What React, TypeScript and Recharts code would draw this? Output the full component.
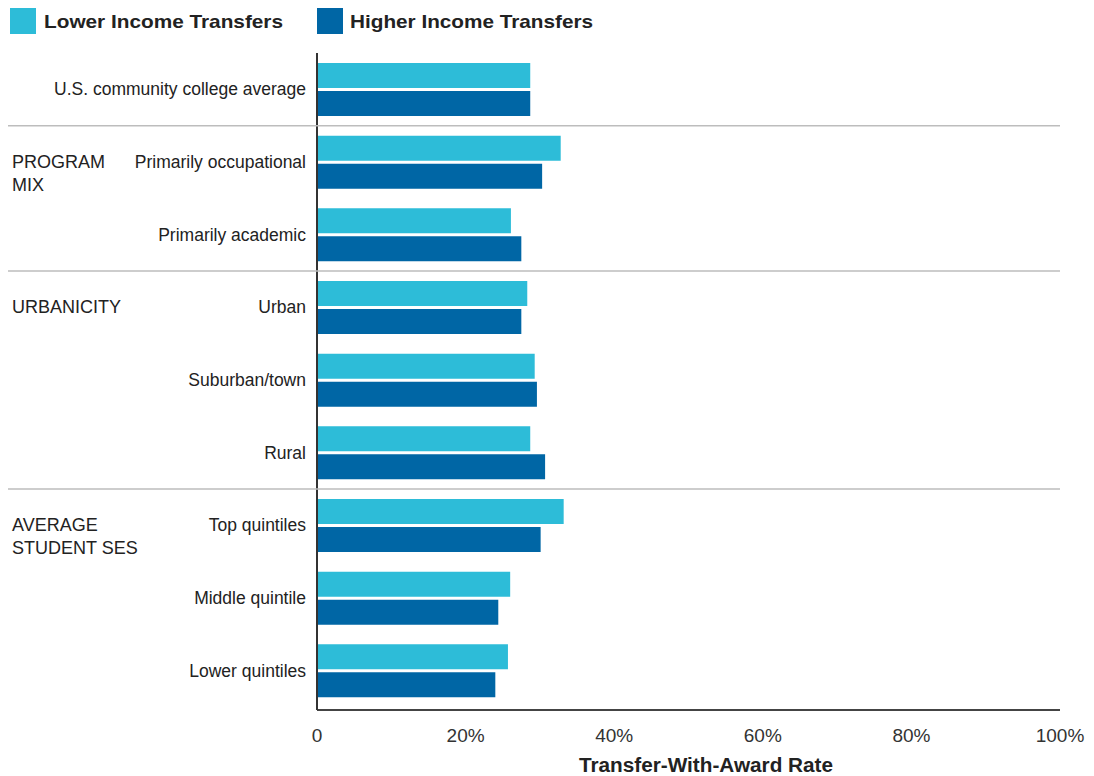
import React from "react";
import { BarChart, Bar, XAxis, YAxis, Legend } from "recharts";

// ---------- data ----------
const categories = [
  "U.S. community college average",
  "Primarily occupational",
  "Primarily academic",
  "Urban",
  "Suburban/town",
  "Rural",
  "Top quintiles",
  "Middle quintile",
  "Lower quintiles",
];
const lowerIncome = [28.7, 32.8, 26.1, 28.3, 29.3, 28.7, 33.2, 26.0, 25.7];
const higherIncome = [28.7, 30.3, 27.5, 27.5, 29.6, 30.7, 30.1, 24.4, 24.0];
const seriesNames = ["Lower Income Transfers", "Higher Income Transfers"];
const xTicks = [0, 20, 40, 60, 80, 100];
const xAxisTitle = "Transfer-With-Award Rate";
const groupStarts = ["Primarily occupational", "Urban", "Top quintiles"];
const groupLabels = [["PROGRAM", "MIX"], ["URBANICITY"], ["AVERAGE", "STUDENT SES"]];

const data = categories.map((c, i) => ({
  category: c,
  lower: lowerIncome[i],
  higher: higherIncome[i],
}));

// ---------- style ----------
const CYAN = "#2dbcd8";
const BLUE = "#0066a5";
const FONT = "'Liberation Sans', Arial, Helvetica, sans-serif";
const W = 1094;
const H = 776;
const PLOT_RIGHT = 1060;

const YTick = (props: any) => {
  const { x, y, payload } = props;
  const half = payload && typeof payload.offset === "number" && payload.offset > 0 ? payload.offset : 36.3;
  const gi = groupStarts.indexOf(payload.value);
  return (
    <g>
      {gi >= 0 && (
        <line x1={8} x2={PLOT_RIGHT} y1={y - half} y2={y - half} stroke="#bdbdbd" strokeWidth={1.5} />
      )}
      {gi >= 0 &&
        groupLabels[gi].map((t, i) => (
          <text key={i} x={12} y={y + 6 + i * 22.6} fontSize={18} fill="#222" fontFamily={FONT}>
            {t}
          </text>
        ))}
      <text x={x} y={y + 6} textAnchor="end" fontSize={17.5} fill="#222" fontFamily={FONT}>
        {payload.value}
      </text>
    </g>
  );
};

const legendPos = [
  { sx: 10, tx: 44, tw: 239 },
  { sx: 317, tx: 350, tw: 243 },
];

const LegendContent = (props: any) => {
  const payload = [...(props.payload || [])].sort(
    (a: any, b: any) => seriesNames.indexOf(a.value) - seriesNames.indexOf(b.value)
  );
  return (
    <svg width={640} height={44} style={{ display: "block" }}>
      {payload.map((p: any, i: number) => (
        <g key={i}>
          <rect x={legendPos[i].sx} y={8} width={26} height={26} fill={p.color} />
          <text
            x={legendPos[i].tx}
            y={28}
            fontSize={19}
            fontWeight="bold"
            fill="#222"
            fontFamily={FONT}
            textLength={legendPos[i].tw}
            lengthAdjust="spacingAndGlyphs"
          >
            {p.value}
          </text>
        </g>
      ))}
    </svg>
  );
};

const XTitle = (props: any) => {
  const vb = props.viewBox || { x: 317, y: 710, width: 743, height: 66 };
  return (
    <text
      x={vb.x + vb.width / 2 + 17.5}
      y={vb.y + 62}
      textAnchor="middle"
      fontSize={19.5}
      fontWeight="bold"
      fill="#222"
      fontFamily={FONT}
      textLength={254}
      lengthAdjust="spacingAndGlyphs"
    >
      {xAxisTitle}
    </text>
  );
};

export default function App() {
  return (
    <div style={{ position: "absolute", left: 0, top: 0, width: W, height: H, background: "#fff" }}>
      <BarChart
        width={W}
        height={H}
        data={data}
        layout="vertical"
        margin={{ top: 53, right: W - PLOT_RIGHT, bottom: 0, left: 0 }}
        barSize={25}
        barGap={3}
      >
        <XAxis
          type="number"
          domain={[0, 100]}
          ticks={xTicks}
          interval={0}
          height={66}
          axisLine={{ stroke: "#444", strokeWidth: 2 }}
          tickLine={false}
          tickSize={0}
          tickMargin={18.5}
          tick={{ fontSize: 19, fill: "#333", fontFamily: FONT }}
          tickFormatter={(v: number) => (v === 0 ? "0" : `${v}%`)}
          label={<XTitle />}
        />
        <YAxis
          type="category"
          dataKey="category"
          width={317}
          interval={0}
          padding={{ top: 0, bottom: 3 }}
          axisLine={{ stroke: "#333", strokeWidth: 2 }}
          tickLine={false}
          tickSize={0}
          tickMargin={11}
          tick={<YTick />}
        />
        <Legend
          verticalAlign="middle"
          align="center"
          wrapperStyle={{ top: 0, left: 0, width: 640, height: 44 }}
          content={<LegendContent />}
        />
        <Bar dataKey="lower" name={seriesNames[0]} fill={CYAN} isAnimationActive={false} />
        <Bar dataKey="higher" name={seriesNames[1]} fill={BLUE} isAnimationActive={false} />
      </BarChart>
    </div>
  );
}
